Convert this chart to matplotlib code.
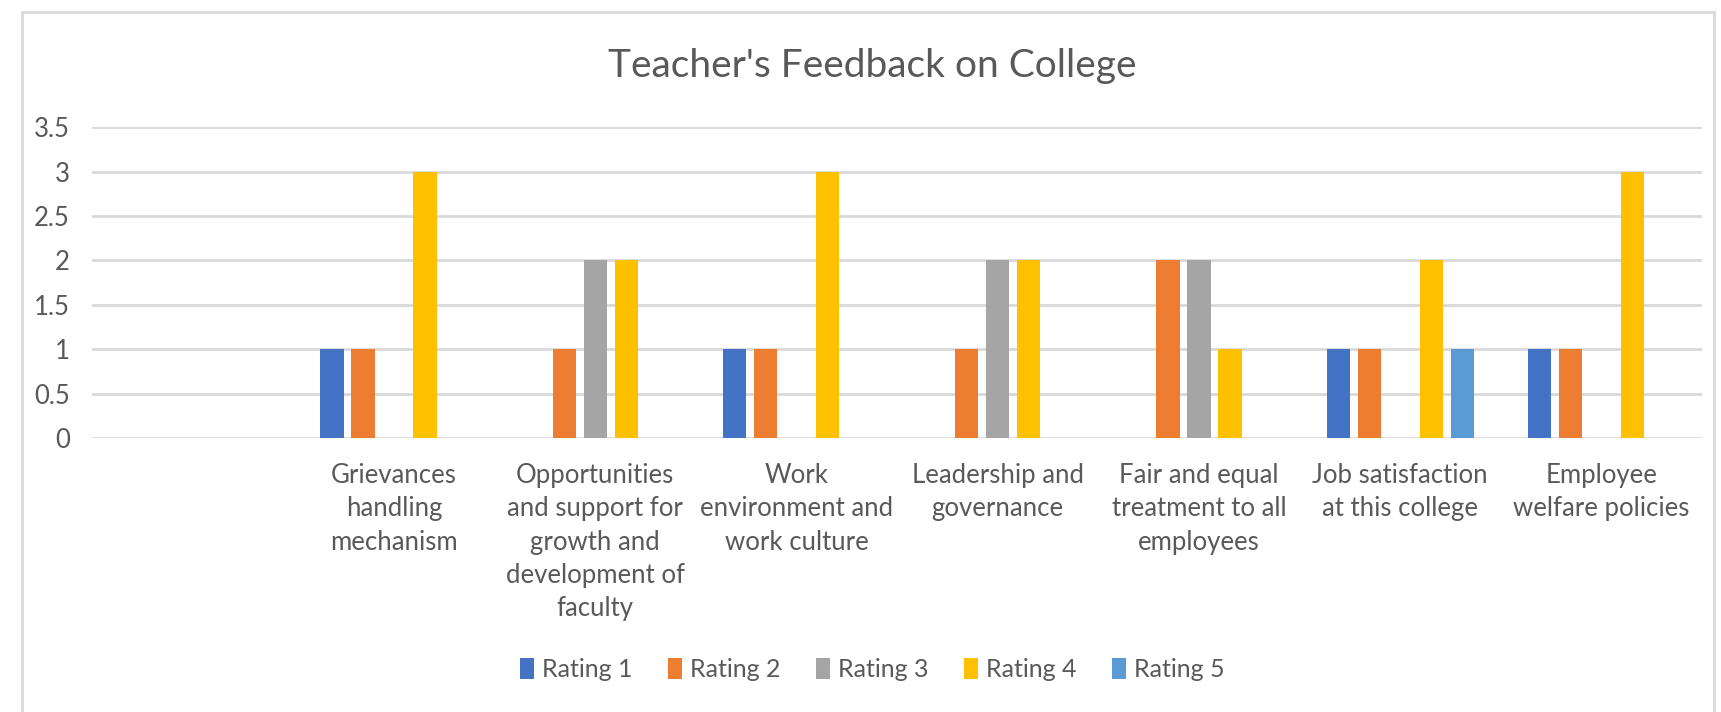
import numpy as np
import matplotlib.pyplot as plt
from matplotlib.patches import Rectangle

plt.switch_backend('agg')
plt.rcParams['font.family'] = ['Lato', 'DejaVu Sans']

TITLE = "Teacher's Feedback on College"

categories = [
    "",
    "Grievances\nhandling\nmechanism",
    "Opportunities\nand support for\ngrowth and\ndevelopment of\nfaculty",
    "Work\nenvironment and\nwork culture",
    "Leadership and\ngovernance",
    "Fair and equal\ntreatment to all\nemployees",
    "Job satisfaction\nat this college",
    "Employee\nwelfare policies",
]

series_names = ["Rating 1", "Rating 2", "Rating 3", "Rating 4", "Rating 5"]
rating1 = [0, 1, 0, 1, 0, 0, 1, 1]
rating2 = [0, 1, 1, 1, 1, 2, 1, 1]
rating3 = [0, 0, 2, 0, 2, 2, 0, 0]
rating4 = [0, 3, 2, 3, 2, 1, 2, 3]
rating5 = [0, 0, 0, 0, 0, 0, 1, 0]

y_ticks = [0, 0.5, 1, 1.5, 2, 2.5, 3, 3.5]
y_tick_labels = ["0", "0.5", "1", "1.5", "2", "2.5", "3", "3.5"]

COLORS = ["#4472C4", "#ED7D31", "#A5A5A5", "#FFC000", "#5B9BD5"]
TEXT_C = "#595959"
GRID_C = "#D9D9D9"


def main():
    fig = plt.figure(figsize=(17.21, 7.12), dpi=100)
    ax = fig.add_axes([0.0535, 0.385, 0.9355, 0.436])

    # chart border
    fig.patches.append(Rectangle((22 / 1721, -0.05), (1714 - 22) / 1721, 1.05 - 12 / 712,
                                 transform=fig.transFigure, fill=False,
                                 edgecolor="#D9D9D9", linewidth=2))

    x = np.arange(len(categories))
    pitch = 0.154
    width = 0.115
    all_series = [rating1, rating2, rating3, rating4, rating5]
    for i, vals in enumerate(all_series):
        ax.bar(x + (i - 2) * pitch, vals, width=width, color=COLORS[i],
               label=series_names[i], zorder=3)

    ax.set_xlim(-0.5, len(categories) - 0.5)
    ax.set_ylim(0, 3.5)
    ax.set_yticks(y_ticks)
    ax.set_yticklabels(y_tick_labels, fontsize=18.5, color=TEXT_C)
    ax.set_xticks(x)
    ax.set_xticklabels(categories, fontsize=18.5, color=TEXT_C, linespacing=1.42, va="top")
    ax.tick_params(axis="both", length=0)
    ax.tick_params(axis="y", pad=16)
    ax.tick_params(axis="x", pad=18)

    ax.grid(axis="y", color=GRID_C, linewidth=2, zorder=0)
    for s in ax.spines.values():
        s.set_visible(False)

    fig.text(0.507, 0.907, TITLE, ha="center", va="center", fontsize=28, color=TEXT_C)

    leg = fig.legend(loc="center", bbox_to_anchor=(0.507, 0.06), ncol=5, frameon=False,
                     fontsize=18, handlelength=0.55, handleheight=0.9, handletextpad=0.35,
                     columnspacing=1.4)
    for t in leg.get_texts():
        t.set_color(TEXT_C)

    fig.savefig("out.png", dpi=100)


if __name__ == '__main__':
    main()
